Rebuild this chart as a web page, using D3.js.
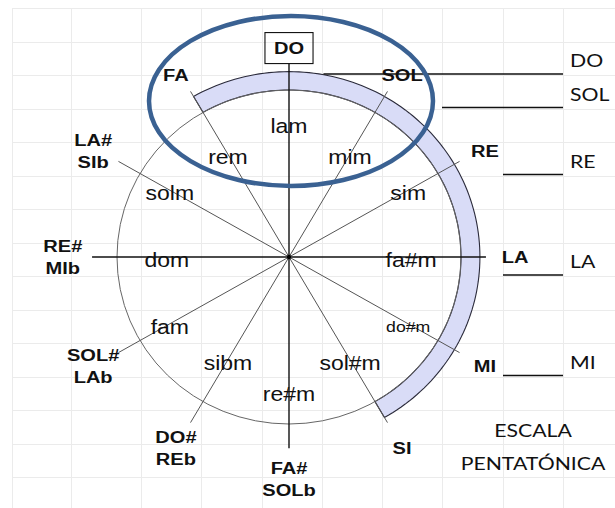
<!DOCTYPE html>
<html><head><meta charset="utf-8">
<script src="https://cdn.jsdelivr.net/npm/d3@7"></script>
<style>body{margin:0;background:#fff}svg{display:block}</style>
</head><body>
<svg id="c" width="615" height="508"></svg>
<script>
// ---- data ----
const majorKeys = [["DO"],["SOL"],["RE"],["LA"],["MI"],["SI"],["FA#","SOLb"],["DO#","REb"],["SOL#","LAb"],["RE#","MIb"],["LA#","SIb"],["FA"]];
const minorKeys = ["lam","mim","sim","fa#m","do#m","sol#m","re#m","sibm","fam","dom","solm","rem"];
const tonic = "DO";
const bandFrom = "FA", bandTo = "SI";
const pentatonic = ["DO","SOL","RE","LA","MI"];
const scaleTitle = ["ESCALA","PENTATÓNICA"];

// ---- style ----
const compactLabels = new Set(["do#m"]);

// ---- layout ----
const W = 615, H = 508;
const cx = 289, cy = 257, rx = 172, ry = 167;
const SX = 1.18;
const svg = d3.select("#c");

const gridCols = [12,71,141,201,262,322,382,442,503,563];
const rowH = 33.5, rowTop = d3.scaleLinear().domain([0,1]).range([8, 8+rowH]);
const nRows = Math.ceil((H-8)/rowH)+1;

const angle = d3.scaleLinear().domain([0,12]).range([0, 2*Math.PI]);
const pt = (i,k,ky) => [cx + k*rx*Math.sin(angle(i)), cy - (ky===undefined?k:ky)*ry*Math.cos(angle(i))];

// grid
const grid = svg.append("g").attr("stroke","#ebebeb").attr("stroke-width",1);
gridCols.forEach(x => grid.append("line").attr("x1",x+0.5).attr("x2",x+0.5).attr("y1",8).attr("y2",H));
d3.range(nRows).forEach(r => { const y = Math.round(rowTop(r))+0.5; grid.append("line").attr("x1",12).attr("x2",W).attr("y1",y).attr("y2",y); });

// band
const keyIdx = n => majorKeys.findIndex(k => k.includes(n));
let bFrom = keyIdx(bandFrom), bTo = keyIdx(bandTo);
if (bFrom > bTo) bFrom -= 12;
const ts = d3.range(bFrom, bTo + 0.0001, 0.05);
const bandOut = 1.11;
const bandPts = ts.map(t => pt(t, bandOut)).concat(ts.slice().reverse().map(t => pt(t, 1)));
svg.append("path").attr("d", d3.line()(bandPts) + "Z")
  .attr("fill","#d9dcf7").attr("stroke","#2a2a3a").attr("stroke-width",1.1);

// circle
svg.append("ellipse").attr("cx",cx).attr("cy",cy).attr("rx",rx).attr("ry",ry)
  .attr("fill","none").attr("stroke","#666").attr("stroke-width",1);

// label positions
const labelPos = i => {
  const p = pt(i, 1.315, 1.29);
  const c = Math.cos(angle(i));
  return [p[0], p[1] + 6.5*c*c];
};
const tIdx = keyIdx(tonic);
const fsMajor = 17;
const boxH = 31;

// radial lines
majorKeys.forEach((k,i) => {
  let end = pt(i, 1.145);
  if (i === tIdx) { const lp = labelPos(i); end = [lp[0], lp[1] + boxH/2]; }
  const main = i % 3 === 0;
  svg.append("line").attr("x1",cx).attr("y1",cy).attr("x2",end[0]).attr("y2",end[1])
    .attr("stroke", main ? "#111" : "#555").attr("stroke-width", main ? 1.4 : 1);
});
svg.append("circle").attr("cx",cx).attr("cy",cy).attr("r",2.2).attr("fill","#000");

// major labels
majorKeys.forEach((k,i) => {
  const [x,y] = labelPos(i);
  const g = svg.append("g").attr("transform",`translate(${x},${y}) scale(${SX},1)`);
  k.forEach((line,j) => {
    g.append("text").attr("x",0).attr("y",(j-(k.length-1)/2)*22 + 6)
      .attr("text-anchor","middle").attr("font-family","'Liberation Sans', Arial, sans-serif")
      .attr("font-weight","bold").attr("font-size",fsMajor).attr("fill","#111").text(line);
  });
  if (i === tIdx) {
    const w = g.select("text").node().getComputedTextLength()*SX + 18;
    svg.append("rect").attr("x",x-w/2).attr("y",y-boxH/2).attr("width",w).attr("height",boxH)
      .attr("fill","none").attr("stroke","#111").attr("stroke-width",1.1);
  }
});

// minor labels
minorKeys.forEach((m,i) => {
  const p = pt(i, i % 2 ? 0.71 : 0.80);
  const fs = compactLabels.has(m) ? 15 : 19.5;
  svg.append("g").attr("transform",`translate(${p[0]},${p[1]+4}) scale(${SX},1)`)
    .append("text").attr("y", fs*0.31).attr("text-anchor","middle")
    .attr("font-family","'Liberation Sans', Arial, sans-serif").attr("font-size",fs).attr("fill","#111").text(m);
});

// pentatonic notes on right
const noteX = gridCols[9] + 7;
pentatonic.forEach((n,j) => {
  const i = keyIdx(n);
  const ly = labelPos(i)[1];
  const r = Math.floor((ly - rowTop(0))/rowH);
  const bottom = rowTop(r+1);
  svg.append("g").attr("transform",`translate(${noteX},${bottom-8}) scale(${SX},1)`)
    .append("text").attr("font-family","Lato, 'Open Sans', sans-serif").attr("font-size",18).attr("fill","#111").text(n);
  let x1;
  if (j === 0) {
    const dy = (bottom - 1 - cy)/(ry*bandOut);
    x1 = cx + rx*bandOut*Math.sqrt(Math.max(0, 1 - dy*dy)) + 4;
  } else if (j === 1) x1 = gridCols[7];
  else x1 = gridCols[8];
  svg.append("line").attr("x1",x1).attr("x2",gridCols[9]).attr("y1",bottom-1).attr("y2",bottom-1)
    .attr("stroke","#111").attr("stroke-width",1.3);
});

// title
scaleTitle.forEach((t,j) => {
  svg.append("g").attr("transform",`translate(${(gridCols[8]+gridCols[9])/2},${rowTop(13+j)-7}) scale(${SX},1)`)
    .append("text").attr("text-anchor","middle").attr("font-family","Lato, 'Open Sans', sans-serif")
    .attr("font-size",18).attr("fill","#111").text(t);
});

// highlight ellipse
svg.append("ellipse").attr("cx",291).attr("cy",101).attr("rx",142).attr("ry",85)
  .attr("fill","none").attr("stroke","#3a6192").attr("stroke-width",4.5);
</script>
</body></html>
